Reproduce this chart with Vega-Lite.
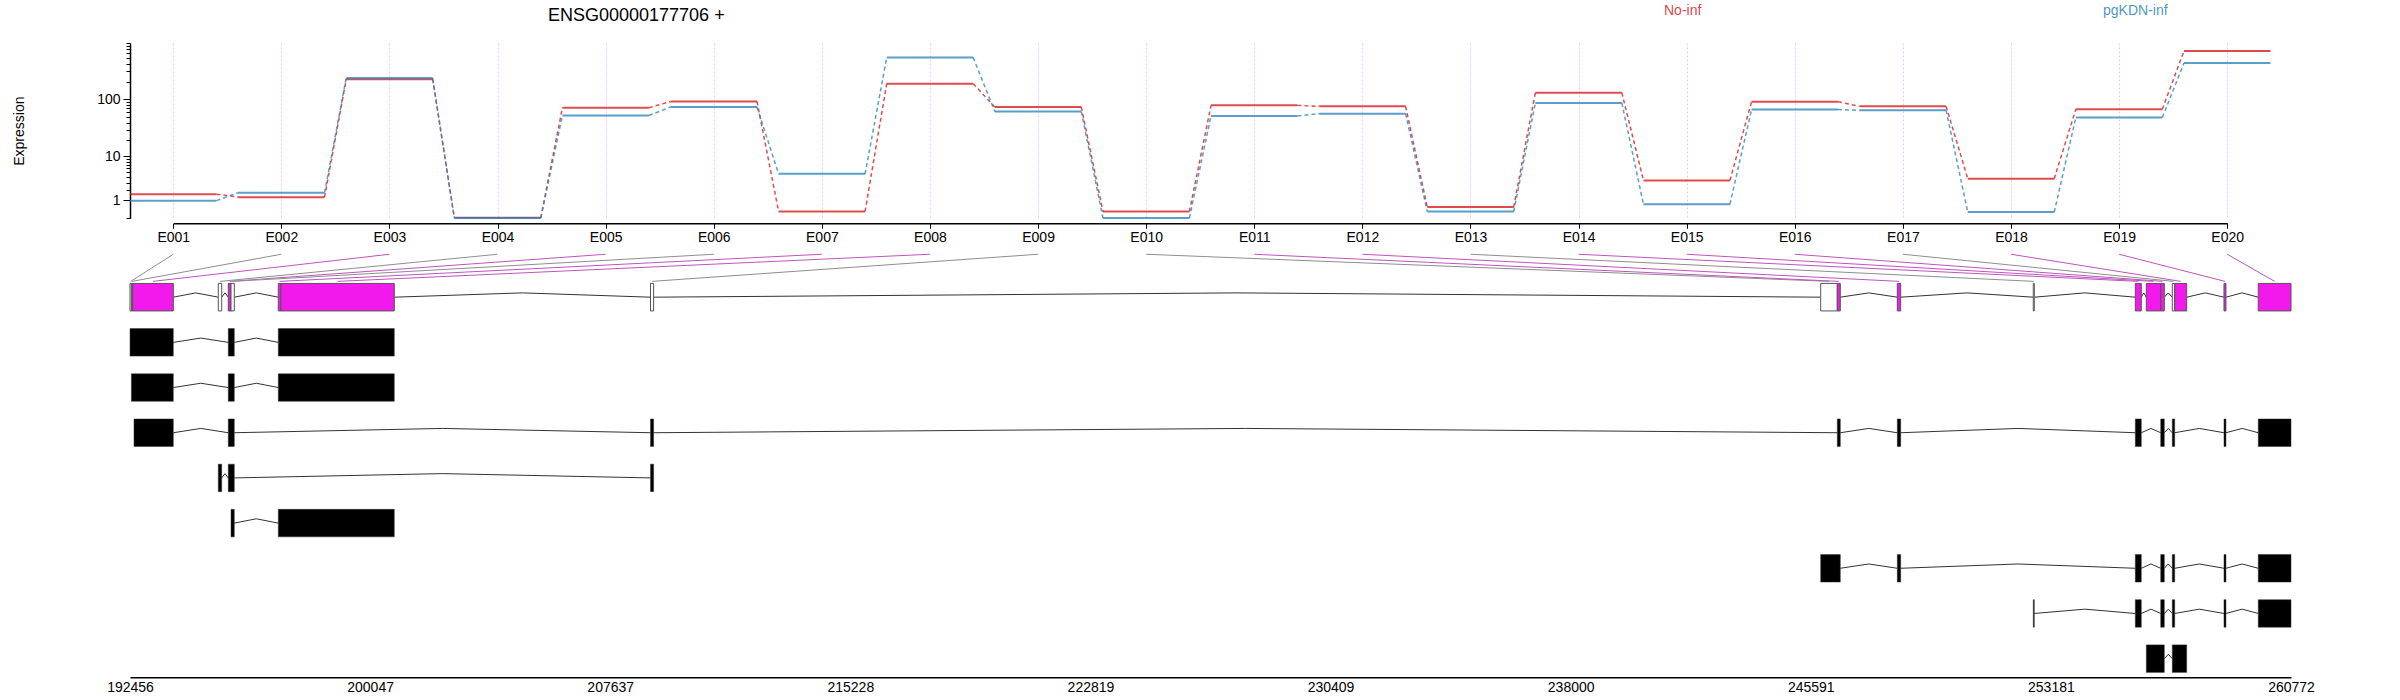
{
  "$schema": "https://vega.github.io/schema/vega-lite/v6.json",
  "background": "white",
  "padding": {"left": 12, "top": 4, "right": 5, "bottom": 0},
  "config": {"font": "Liberation Sans", "view": {"stroke": null}},
  "title": {"text": "ENSG00000177706 +", "fontSize": 18, "fontWeight": "normal", "anchor": "start", "frame": "group", "dx": 418, "offset": -21, "color": "black", "font": "Liberation Sans"},
  "bounds": "flush",
  "spacing": 28,
  "resolve": {"scale": {"x": "independent", "y": "independent"}},
  "datasets": {
    "expr": [
      {"i":1,"c":"No-inf","v":1.55},{"i":1,"c":"pgKDN-inf","v":0.98},
      {"i":2,"c":"No-inf","v":1.27},{"i":2,"c":"pgKDN-inf","v":1.7},
      {"i":3,"c":"No-inf","v":219},{"i":3,"c":"pgKDN-inf","v":230},
      {"i":4,"c":"No-inf","v":0.02},{"i":4,"c":"pgKDN-inf","v":0.01},
      {"i":5,"c":"No-inf","v":72},{"i":5,"c":"pgKDN-inf","v":53},
      {"i":6,"c":"No-inf","v":92},{"i":6,"c":"pgKDN-inf","v":74},
      {"i":7,"c":"No-inf","v":0.3},{"i":7,"c":"pgKDN-inf","v":4.6},
      {"i":8,"c":"No-inf","v":185},{"i":8,"c":"pgKDN-inf","v":514},
      {"i":9,"c":"No-inf","v":74},{"i":9,"c":"pgKDN-inf","v":62},
      {"i":10,"c":"No-inf","v":0.3},{"i":10,"c":"pgKDN-inf","v":0.01},
      {"i":11,"c":"No-inf","v":79},{"i":11,"c":"pgKDN-inf","v":52},
      {"i":12,"c":"No-inf","v":76},{"i":12,"c":"pgKDN-inf","v":57},
      {"i":13,"c":"No-inf","v":0.55},{"i":13,"c":"pgKDN-inf","v":0.3},
      {"i":14,"c":"No-inf","v":130},{"i":14,"c":"pgKDN-inf","v":87},
      {"i":15,"c":"No-inf","v":3.35},{"i":15,"c":"pgKDN-inf","v":0.73},
      {"i":16,"c":"No-inf","v":91},{"i":16,"c":"pgKDN-inf","v":67},
      {"i":17,"c":"No-inf","v":76},{"i":17,"c":"pgKDN-inf","v":65},
      {"i":18,"c":"No-inf","v":3.65},{"i":18,"c":"pgKDN-inf","v":0.27},
      {"i":19,"c":"No-inf","v":68},{"i":19,"c":"pgKDN-inf","v":49},
      {"i":20,"c":"No-inf","v":657},{"i":20,"c":"pgKDN-inf","v":412}
    ],
    "bins": [
      {"i":1,"s":192456,"e":192500,"sig":false},
      {"i":2,"s":192500,"e":192540,"sig":false},
      {"i":3,"s":192540,"e":193825,"sig":true},
      {"i":4,"s":195247,"e":195355,"sig":false},
      {"i":5,"s":195563,"e":195649,"sig":true},
      {"i":6,"s":195649,"e":195753,"sig":false},
      {"i":7,"s":197144,"e":197230,"sig":true},
      {"i":8,"s":197230,"e":200811,"sig":true},
      {"i":9,"s":208911,"e":209009,"sig":false},
      {"i":10,"s":245904,"e":246429,"sig":false},
      {"i":11,"s":246429,"e":246524,"sig":true},
      {"i":12,"s":248326,"e":248433,"sig":true},
      {"i":13,"s":252625,"e":252657,"sig":false},
      {"i":14,"s":255850,"e":256039,"sig":true},
      {"i":15,"s":256198,"e":256653,"sig":true},
      {"i":16,"s":256653,"e":256767,"sig":true},
      {"i":17,"s":257019,"e":257095,"sig":false},
      {"i":18,"s":257095,"e":257474,"sig":true},
      {"i":19,"s":258653,"e":258716,"sig":true},
      {"i":20,"s":259737,"e":260772,"sig":true}
    ],
    "tx": [
      {"r":2,"s":192456,"e":193825},{"r":2,"s":195563,"e":195753},{"r":2,"s":197144,"e":200811},
      {"r":3,"s":192500,"e":193825},{"r":3,"s":195563,"e":195753},{"r":3,"s":197144,"e":200811},
      {"r":4,"s":192582,"e":193825},{"r":4,"s":195563,"e":195753},{"r":4,"s":208911,"e":209009},{"r":4,"s":246429,"e":246524},{"r":4,"s":248326,"e":248433},{"r":4,"s":255850,"e":256039},{"r":4,"s":256653,"e":256767},{"r":4,"s":257019,"e":257095},{"r":4,"s":258653,"e":258716},{"r":4,"s":259737,"e":260772},
      {"r":5,"s":195247,"e":195355},{"r":5,"s":195563,"e":195753},{"r":5,"s":208911,"e":209009},
      {"r":6,"s":195649,"e":195753},{"r":6,"s":197144,"e":200811},
      {"r":7,"s":245904,"e":246524},{"r":7,"s":248326,"e":248433},{"r":7,"s":255850,"e":256039},{"r":7,"s":256653,"e":256767},{"r":7,"s":257019,"e":257095},{"r":7,"s":258653,"e":258716},{"r":7,"s":259737,"e":260772},
      {"r":8,"s":252625,"e":252657},{"r":8,"s":255850,"e":256039},{"r":8,"s":256653,"e":256767},{"r":8,"s":257019,"e":257095},{"r":8,"s":258653,"e":258716},{"r":8,"s":259737,"e":260772},
      {"r":9,"s":256198,"e":256767},{"r":9,"s":257019,"e":257474}
    ],
    "introns": [
      {"r":1,"a":193825,"b":195247},{"r":1,"a":195355,"b":195563},{"r":1,"a":195753,"b":197144},{"r":1,"a":200811,"b":208911},{"r":1,"a":209009,"b":245904},{"r":1,"a":246524,"b":248326},{"r":1,"a":248433,"b":252625},{"r":1,"a":252657,"b":255850},{"r":1,"a":256039,"b":256198},{"r":1,"a":256767,"b":257019},{"r":1,"a":257474,"b":258653},{"r":1,"a":258716,"b":259737},
      {"r":2,"a":193825,"b":195563},{"r":2,"a":195753,"b":197144},
      {"r":3,"a":193825,"b":195563},{"r":3,"a":195753,"b":197144},
      {"r":4,"a":193825,"b":195563},{"r":4,"a":195753,"b":208911},{"r":4,"a":209009,"b":246429},{"r":4,"a":246524,"b":248326},{"r":4,"a":248433,"b":255850},{"r":4,"a":256039,"b":256653},{"r":4,"a":256767,"b":257019},{"r":4,"a":257095,"b":258653},{"r":4,"a":258716,"b":259737},
      {"r":5,"a":195355,"b":195563},{"r":5,"a":195753,"b":208911},
      {"r":6,"a":195753,"b":197144},
      {"r":7,"a":246524,"b":248326},{"r":7,"a":248433,"b":255850},{"r":7,"a":256039,"b":256653},{"r":7,"a":256767,"b":257019},{"r":7,"a":257095,"b":258653},{"r":7,"a":258716,"b":259737},
      {"r":8,"a":252657,"b":255850},{"r":8,"a":256039,"b":256653},{"r":8,"a":256767,"b":257019},{"r":8,"a":257095,"b":258653},{"r":8,"a":258716,"b":259737},
      {"r":9,"a":256767,"b":257019}
    ]
  },
  "vconcat": [
    {
      "width": 2161,
      "height": 175.25,
      "data": {"name": "expr"},
      "encoding": {
        "x": {"field": "i", "type": "quantitative",
          "scale": {"domain": [1, 20], "range": [43.24, 2097.2], "nice": false, "zero": false},
          "axis": {"values": [1,2,3,4,5,6,7,8,9,10,11,12,13,14,15,16,17,18,19,20],
            "labelExpr": "'E' + (datum.value < 10 ? '00' : '0') + datum.value",
            "title": null, "grid": true, "gridColor": "#E8CBE8", "gridDash": [2, 2], "gridWidth": 1,
            "domainColor": "black", "domainWidth": 1.5, "tickColor": "black", "tickSize": 5, "tickWidth": 1,
            "labelFontSize": 14, "labelPadding": 2, "labelColor": "black", "offset": 5, "labelFlush": false, "labelOverlap": false}},
        "y": {"field": "v", "type": "quantitative",
          "scale": {"type": "symlog", "constant": 1, "domain": [0, 900], "nice": false, "zero": false},
          "axis": {"values": [0,1,2,3,4,5,6,7,8,9,10,20,30,40,50,60,70,80,90,100,200,300,400,500,600,700,800,900],
            "labelExpr": "(datum.value == 1 || datum.value == 10 || datum.value == 100) ? ('' + datum.value) : ''",
            "tickSize": {"condition": {"test": "datum.value == 1 || datum.value == 10 || datum.value == 100", "value": 7}, "value": 4},
            "title": "Expression", "titleFontSize": 14, "titleFontWeight": "normal", "titlePadding": 70, "titleColor": "black",
            "grid": false, "domainColor": "black", "domainWidth": 1.5, "tickColor": "black", "tickWidth": 1,
            "labelFontSize": 14, "labelColor": "black", "labelPadding": 3, "labelOverlap": false, "labelFlush": false}},
        "color": {"field": "c", "type": "nominal",
          "scale": {"domain": ["No-inf", "pgKDN-inf"], "range": ["#D7191C", "#2B83BA"]},
          "legend": {"orient": "none", "legendX": 1520, "legendY": -38.6, "direction": "horizontal", "title": null,
            "symbolSize": 0, "symbolStrokeWidth": 0, "symbolOpacity": 0, "labelOffset": 0, "columnPadding": 387,
            "labelFontSize": 14, "labelFont": "Liberation Sans",
            "encode": {"labels": {"update": {"fill": {"scale": "color", "field": "value"}, "fillOpacity": {"value": 0.85}}}}}}
      },
      "layer": [
        {
          "transform": [
            {"window": [{"op": "lead", "field": "v", "as": "v2"}, {"op": "lead", "field": "i", "as": "i2"}], "groupby": ["c"], "sort": [{"field": "i"}]},
            {"filter": "datum.i2 != null"}
          ],
          "mark": {"type": "rule", "xOffset": 43.24, "x2Offset": -43.24, "strokeDash": [4, 3], "strokeWidth": 1.5, "opacity": 0.78},
          "encoding": {"x2": {"field": "i2"}, "y2": {"field": "v2"}}
        },
        {
          "mark": {"type": "rule", "xOffset": -43.24, "x2Offset": 43.24, "strokeWidth": 2, "opacity": 0.78},
          "encoding": {"x2": {"field": "i"}}
        }
      ]
    },
    {
      "width": 2161,
      "height": 430.2,
      "layer": [
        {
          "data": {"name": "bins"},
          "transform": [
            {"fold": ["s", "e"], "as": ["k", "g"]},
            {"aggregate": [{"op": "mean", "field": "g", "as": "m"}], "groupby": ["i", "sig"]}
          ],
          "mark": {"type": "rule", "strokeWidth": 1},
          "encoding": {
            "x": {"field": "m", "type": "quantitative",
              "scale": {"domain": [192456, 260772], "nice": false, "zero": false},
              "axis": {"values": [192456, 200047, 207637, 215228, 222819, 230409, 238000, 245591, 253181, 260772], "format": "d", "title": null, "grid": false, "ticks": false, "domainColor": "black", "domainWidth": 1.5, "labelFontSize": 14, "labelColor": "black", "labelPadding": 3, "labelFlush": false, "labelOverlap": false}},
            "x2": {"value": {"expr": "scale('concat_0_x', datum.i)"}},
            "y": {"datum": 0.65, "type": "quantitative", "scale": {"domain": [0, 9.3], "reverse": true, "nice": false, "zero": false}, "axis": null},
            "y2": {"datum": 0.05},
            "color": {"condition": {"test": "datum.sig", "value": "#BE55BE"}, "value": "#8E8E8E"}
          }
        },
        {
          "data": {"name": "introns"},
          "transform": [
            {"fold": ["a", "b"], "as": ["k", "x"]},
            {"joinaggregate": [{"op": "mean", "field": "x", "as": "m"}], "groupby": ["r", "a"]}
          ],
          "mark": {"type": "rule", "y2Offset": -4.3, "stroke": "#333333", "strokeWidth": 1},
          "encoding": {
            "x": {"field": "x", "type": "quantitative",
              "scale": {"domain": [192456, 260772], "nice": false, "zero": false},
              "axis": {"values": [192456, 200047, 207637, 215228, 222819, 230409, 238000, 245591, 253181, 260772], "format": "d", "title": null, "grid": false, "ticks": false, "domainColor": "black", "domainWidth": 1.5, "labelFontSize": 14, "labelColor": "black", "labelPadding": 3, "labelFlush": false, "labelOverlap": false}},
            "x2": {"field": "m"},
            "y": {"field": "r", "type": "quantitative", "scale": {"domain": [0, 9.3], "reverse": true, "nice": false, "zero": false}, "axis": null},
            "y2": {"field": "r"}
          }
        },
        {
          "data": {"name": "bins"},
          "mark": {"type": "bar", "orient": "horizontal", "size": 27.5, "stroke": "#555555", "strokeWidth": 1},
          "encoding": {
            "x": {"field": "s", "type": "quantitative",
              "scale": {"domain": [192456, 260772], "nice": false, "zero": false},
              "axis": {"values": [192456, 200047, 207637, 215228, 222819, 230409, 238000, 245591, 253181, 260772], "format": "d", "title": null, "grid": false, "ticks": false, "domainColor": "black", "domainWidth": 1.5, "labelFontSize": 14, "labelColor": "black", "labelPadding": 3, "labelFlush": false, "labelOverlap": false}},
            "x2": {"field": "e"},
            "y": {"datum": 1, "type": "quantitative", "scale": {"domain": [0, 9.3], "reverse": true, "nice": false, "zero": false}, "axis": null},
            "fill": {"condition": {"test": "datum.sig", "value": "#F219ED"}, "value": "white"}
          }
        },
        {
          "data": {"name": "tx"},
          "mark": {"type": "bar", "orient": "horizontal", "size": 27.5, "fill": "black", "stroke": "#333333", "strokeWidth": 0.5},
          "encoding": {
            "x": {"field": "s", "type": "quantitative",
              "scale": {"domain": [192456, 260772], "nice": false, "zero": false},
              "axis": {"values": [192456, 200047, 207637, 215228, 222819, 230409, 238000, 245591, 253181, 260772], "format": "d", "title": null, "grid": false, "ticks": false, "domainColor": "black", "domainWidth": 1.5, "labelFontSize": 14, "labelColor": "black", "labelPadding": 3, "labelFlush": false, "labelOverlap": false}},
            "x2": {"field": "e"},
            "y": {"field": "r", "type": "quantitative", "scale": {"domain": [0, 9.3], "reverse": true, "nice": false, "zero": false}, "axis": null}
          }
        }
      ]
    }
  ]
}
